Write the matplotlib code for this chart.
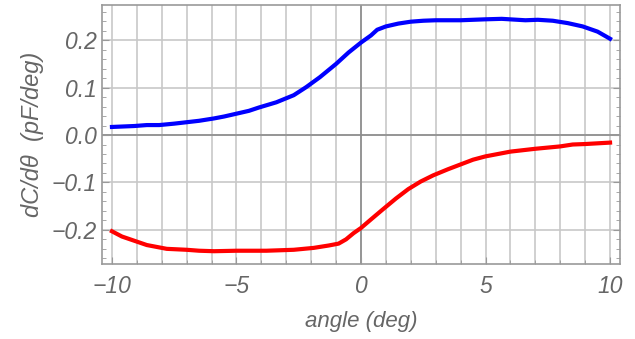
import matplotlib.pyplot as plt
import numpy as np
from matplotlib.ticker import MultipleLocator

# readings (angle in deg, dC/dtheta in pF/deg)
angle_pos = [-10, -9.1, -8.6, -8.1, -7.5, -7.0, -6.5, -5.9, -5.5, -5.0, -4.5, -4.1, -3.4, -2.7, -2.2, -1.65,
             -1.0, -0.5, 0.0, 0.4, 0.65, 1.0, 1.5, 2.0, 2.5, 3.0, 4.0, 5.0, 5.65, 6.6,
             7.1, 7.7, 8.3, 8.9, 9.5, 10]
dcdt_pos = [0.017, 0.019, 0.021, 0.021, 0.024, 0.027, 0.030, 0.035, 0.039, 0.045, 0.051, 0.058, 0.069, 0.084, 0.101, 0.122,
            0.150, 0.174, 0.195, 0.210, 0.222, 0.229, 0.235, 0.239, 0.241, 0.242, 0.242, 0.244, 0.245, 0.242,
            0.243, 0.241, 0.236, 0.229, 0.218, 0.203]

angle_neg = [-10, -9.6, -9.1, -8.6, -7.8, -7.0, -6.5, -5.9, -5.0, -3.8, -2.7, -1.9,
             -1.3, -0.9, -0.6, -0.3, 0.0, 0.4, 0.85, 1.4, 1.9, 2.4, 2.9, 3.5, 4.0, 4.5, 5.0,
             6.0, 7.0, 8.0, 8.5, 9.0, 10]
dcdt_neg = [-0.203, -0.214, -0.223, -0.232, -0.240, -0.242, -0.244, -0.245, -0.244, -0.244, -0.242, -0.238,
            -0.233, -0.229, -0.220, -0.207, -0.196, -0.178, -0.158, -0.134, -0.114, -0.098, -0.085, -0.072, -0.062, -0.052, -0.045,
            -0.035, -0.029, -0.024, -0.020, -0.019, -0.016]

xticks = [-10, -5, 0, 5, 10]
yticks = [-0.2, -0.1, 0.0, 0.1, 0.2]

plt.rcParams['font.family'] = ['Liberation Sans', 'DejaVu Sans']
txt = '#666666'
frame = '#999999'

fig = plt.figure(figsize=(6.35, 3.39), dpi=100)
ax = fig.add_axes([0.1606, 0.2212, 0.8158, 0.7638])

# grid: every degree vertically, every 0.1 horizontally
for gx in range(-10, 11):
    ax.axvline(gx, color='#c8c8c8', lw=1.2, zorder=0)
for gy in yticks:
    ax.axhline(gy, color='#c8c8c8', lw=1.2, zorder=0)
ax.axvline(0, color='#8c8c8c', lw=1.2, zorder=1)
ax.axhline(0, color='#8c8c8c', lw=1.2, zorder=1)

ax.plot(angle_pos, dcdt_pos, color='#0000ff', lw=3.0, solid_joinstyle='round', zorder=3)
ax.plot(angle_neg, dcdt_neg, color='#ff0000', lw=3.0, solid_joinstyle='round', zorder=3)

ax.set_xlim(-10.4, 10.4)
ax.set_ylim(-0.272, 0.274)
ax.set_xticks(xticks)
ax.set_xticklabels(['\u221210', '\u22125', '0', '5', '10'])
ax.set_yticks(yticks)
ax.set_yticklabels(['\u22120.2', '\u22120.1', '0.0', '0.1', '0.2'])
ax.yaxis.set_minor_locator(MultipleLocator(0.02))
ax.xaxis.set_minor_locator(MultipleLocator(1))

ax.tick_params(which='both', direction='in', colors=frame, labelcolor=txt,
               right=True, top=False, labelsize=16.5)
ax.tick_params(which='major', length=5, width=0.8)
ax.tick_params(which='minor', length=3, width=0.6)
ax.tick_params(axis='x', pad=8)
for lab in ax.get_xticklabels() + ax.get_yticklabels():
    lab.set_fontstyle('italic')

for sp in ax.spines.values():
    sp.set_color(frame)
    sp.set_linewidth(1.2)

ax.set_xlabel('angle (deg)', fontsize=16, style='italic', color=txt, labelpad=9)
ax.set_ylabel('dC/d\u03b8  (pF/deg)', fontsize=17, style='italic', color=txt, labelpad=6)

fig.savefig('out.png', dpi=100)
